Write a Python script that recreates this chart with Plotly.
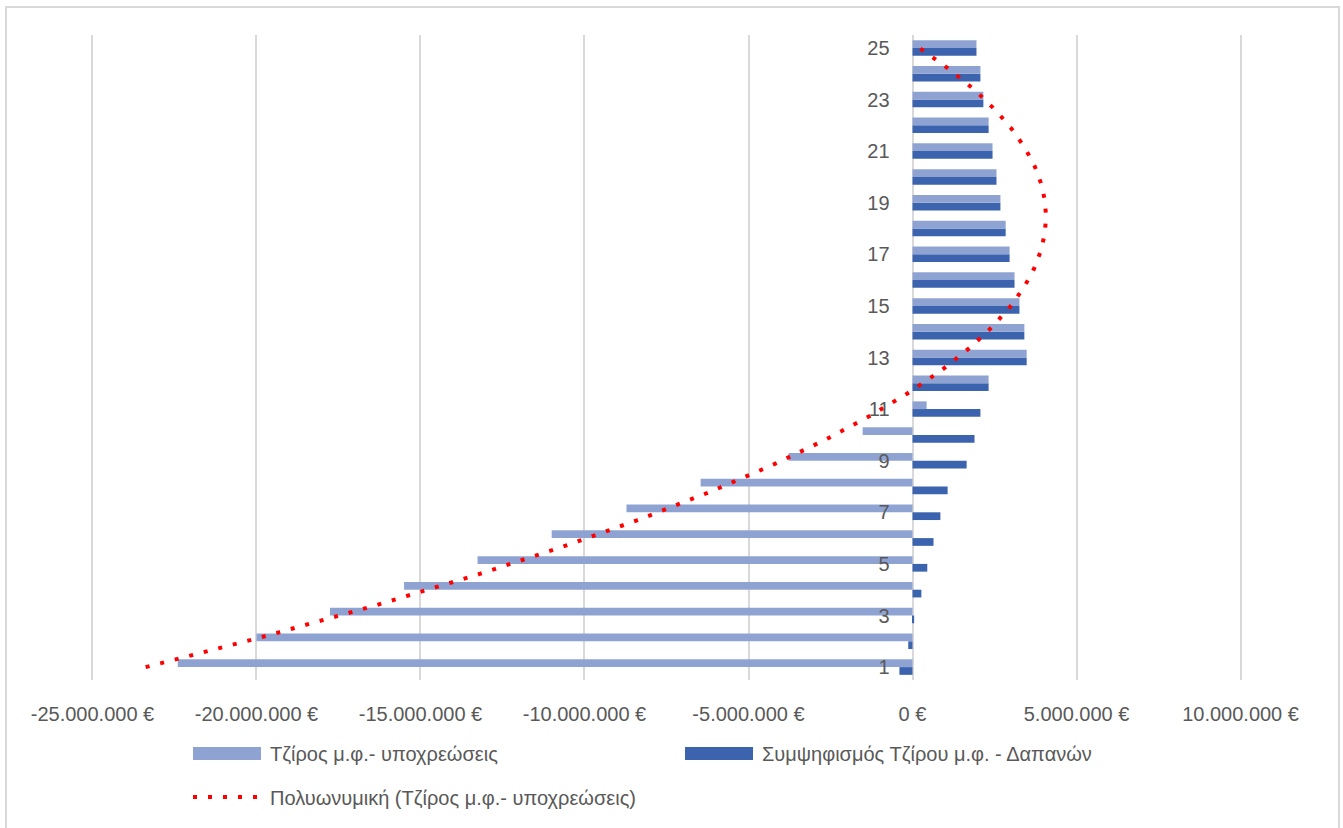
import numpy as np
import plotly.graph_objects as go

# Categories (1..25) and the two series, in euros
categories = list(range(1, 26))

turnover_minus_liabilities = [
    -22_400_000, -20_000_000, -17_760_000, -15_500_000, -13_260_000,
    -11_000_000, -8_720_000, -6_460_000, -3_780_000, -1_520_000,
    430_000, 2_320_000, 3_480_000, 3_410_000, 3_260_000,
    3_110_000, 2_960_000, 2_840_000, 2_680_000, 2_560_000,
    2_440_000, 2_320_000, 2_160_000, 2_070_000, 1_950_000,
]

turnover_minus_expenses = [
    -400_000, -130_000, 50_000, 270_000, 450_000,
    640_000, 850_000, 1_070_000, 1_650_000, 1_890_000,
    2_070_000, 2_320_000, 3_480_000, 3_410_000, 3_260_000,
    3_110_000, 2_960_000, 2_840_000, 2_680_000, 2_560_000,
    2_440_000, 2_320_000, 2_160_000, 2_070_000, 1_950_000,
]

x_tick_vals = [-25_000_000, -20_000_000, -15_000_000, -10_000_000, -5_000_000, 0, 5_000_000, 10_000_000]
x_tick_text = ["-25.000.000 €", "-20.000.000 €", "-15.000.000 €", "-10.000.000 €",
               "-5.000.000 €", "0 €", "5.000.000 €", "10.000.000 €"]
y_tick_vals = [1, 3, 5, 7, 9, 11, 13, 15, 17, 19, 21, 23, 25]

name_light = "Τζίρος μ.φ.- υποχρεώσεις"
name_dark = "Συμψηφισμός Τζίρου μ.φ. - Δαπανών"
name_trend = "Πολυωνυμική (Τζίρος μ.φ.- υποχρεώσεις)"

LIGHT = "#8FA3D3"
DARK = "#3C64AE"
RED = "#FF0000"
GRID = "#D9D9D9"
TEXT = "#595959"
FONT = "Liberation Sans, Arial, sans-serif"

X_MIN, X_MAX = -25_000_000, 10_000_000
PAD = 75_000  # keeps the gridlines at both ends of the axis visible

# Second-order polynomial trendline fitted to the first series
coeffs = np.polyfit(categories, turnover_minus_liabilities, 2)
trend_y = np.linspace(categories[0], categories[-1], 300)
trend_x = np.polyval(coeffs, trend_y)

fig = go.Figure()
fig.add_trace(go.Bar(y=categories, x=turnover_minus_expenses, orientation="h",
                     name=name_dark, marker=dict(color=DARK, line_width=0)))
fig.add_trace(go.Bar(y=categories, x=turnover_minus_liabilities, orientation="h",
                     name=name_light, marker=dict(color=LIGHT, line_width=0)))
fig.add_trace(go.Scatter(x=trend_x, y=trend_y, mode="lines", name=name_trend,
                         line=dict(color=RED, width=4, dash="4px,11px")))

# plot-area geometry in pixels, used to place the hand-built legend and frame
L, R, T, B = 90, 1243, 35, 680
W, H = 1343, 828


def px(x):
    return (x - L) / (R - L)


def py(y):
    return (B - y) / (B - T)


shapes = [
    # outer chart frame
    dict(type="rect", xref="paper", yref="paper", x0=px(6), x1=px(1339), y0=py(834), y1=py(7),
         line=dict(color=GRID, width=2), layer="below"),
    # legend swatches
    dict(type="rect", xref="paper", yref="paper", x0=px(193), x1=px(261), y0=py(760), y1=py(747),
         fillcolor=LIGHT, line_width=0),
    dict(type="rect", xref="paper", yref="paper", x0=px(685), x1=px(753), y0=py(760), y1=py(747),
         fillcolor=DARK, line_width=0),
    dict(type="line", xref="paper", yref="paper", x0=px(193), x1=px(263), y0=py(797), y1=py(797),
         line=dict(color=RED, width=4, dash="4px,11px")),
]

annotations = [
    dict(text=name_light, x=px(268), y=py(754), xref="paper", yref="paper",
         xanchor="left", yanchor="middle", showarrow=False, font=dict(size=20, color=TEXT, family=FONT)),
    dict(text=name_dark, x=px(760), y=py(754), xref="paper", yref="paper",
         xanchor="left", yanchor="middle", showarrow=False, font=dict(size=20, color=TEXT, family=FONT)),
    dict(text=name_trend, x=px(268), y=py(798), xref="paper", yref="paper",
         xanchor="left", yanchor="middle", showarrow=False, font=dict(size=20, color=TEXT, family=FONT)),
]

fig.update_layout(
    width=W, height=H,
    margin=dict(l=L, r=W - R, t=T, b=H - B, autoexpand=False),
    paper_bgcolor="white", plot_bgcolor="white",
    barmode="group", bargap=0.4, bargroupgap=0,
    showlegend=False,
    font=dict(family=FONT, size=20, color=TEXT),
    shapes=shapes, annotations=annotations,
    xaxis=dict(range=[X_MIN - PAD, X_MAX + PAD], tickvals=x_tick_vals, ticktext=x_tick_text,
               showgrid=True, gridcolor=GRID, gridwidth=2, zeroline=False,
               showline=False, ticks="", ticklabelstandoff=20,
               tickfont=dict(size=20, color=TEXT, family=FONT)),
    yaxis=dict(range=[0.5, 25.5], tickvals=y_tick_vals, showgrid=False, zeroline=False,
               showline=False, ticks="", anchor="free",
               position=(0 - (X_MIN - PAD)) / (X_MAX - X_MIN + 2 * PAD), ticklabelstandoff=23,
               tickfont=dict(size=20, color=TEXT, family=FONT)),
)

fig.write_html("out.html")
